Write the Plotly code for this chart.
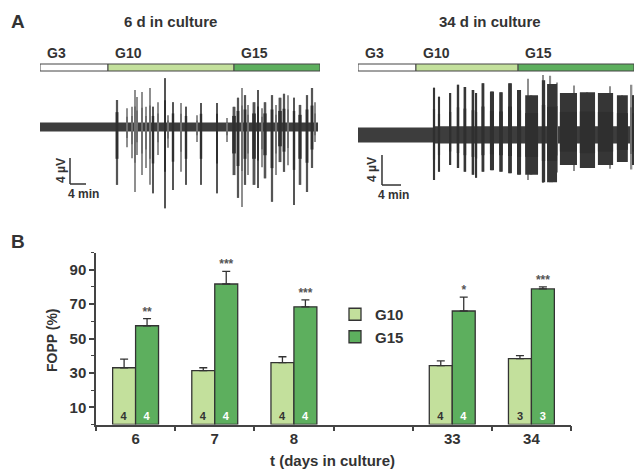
import plotly.graph_objects as go

W, H = 636, 470
def px(x): return x / W
def py(y): return 1 - y / H

FONT = "Liberation Sans, Arial, sans-serif"
INK = "#333333"
C_G10 = "#c3e09c"
C_G15 = "#5daf5e"

# ---------------- Panel B data ----------------
days = ["6", "7", "8", "33", "34"]
day_slots = [0, 1, 2, 4, 5]          # slot 3 is the empty gap on the axis
g10_mean = [33.0, 31.3, 36.0, 34.2, 38.3]
g10_sem = [5.0, 1.7, 3.4, 2.8, 1.7]
g15_mean = [57.4, 81.7, 68.4, 66.0, 78.8]
g15_sem = [4.1, 7.3, 4.1, 8.0, 1.2]
n_g10 = [4, 4, 4, 4, 3]
n_g15 = [4, 4, 4, 4, 3]
signif = ["**", "***", "***", "*", "***"]
y_ticks = [10, 30, 50, 70, 90]

# ---------------- Panel A data (min, µV) ----------------
# 6 d in culture
left_phase_edges = [0, 17, 48.5, 70]
left_band = [(0, 69.5, 0.7)]                      # (start, end, half-amplitude)
left_strong = [  # (t, up, down, duration)
    (19.25, 4.15, 8.9, 0.7), (28.25, 3.1, 10.2, 0.6), (31.25, 7.5, 12.5, 0.5),
    (33.25, 3.8, 9.7, 0.6), (36.5, 3.1, 8.9, 0.6), (40.25, 3.7, 8.9, 0.6),
    (44.25, 3.7, 10.2, 0.5), (48.5, 3.1, 7.4, 0.9), (49.5, 4.5, 10.9, 0.7),
    (51.25, 4.9, 8.9, 0.7), (53.5, 3.8, 8.9, 0.9), (54.5, 5.7, 9.4, 0.5),
    (56.25, 3.8, 7.9, 0.8), (58.0, 4.9, 11.5, 0.7), (60.0, 4.5, 5.4, 0.9),
    (61.0, 5.1, 6.9, 0.7), (63.5, 4.5, 12.0, 0.6), (65.0, 3.4, 8.9, 0.8),
    (66.75, 4.9, 10.0, 0.7), (68.0, 6.0, 6.3, 0.7),
]
left_weak = [  # (t, up, down, duration)
    (21.75, 2.9, 3.1, 0.3), (23.0, 3.1, 4.8, 0.3), (23.75, 5.7, 10.0, 0.3),
    (24.25, 4.6, 4.3, 0.3), (25.5, 5.4, 7.4, 0.3), (26.5, 3.1, 6.3, 0.3),
    (27.5, 6.0, 8.9, 0.3), (29.5, 3.8, 4.3, 0.3), (32.0, 1.8, 3.2, 0.3),
    (35.25, 3.7, 6.9, 0.3), (39.25, 1.8, 2.3, 0.3), (46.75, 1.4, 2.3, 0.3),
    (50.5, 6.0, 12.3, 0.3), (52.0, 3.4, 7.4, 0.3), (55.5, 2.9, 6.2, 0.3),
    (59.0, 3.4, 7.4, 0.3), (62.0, 4.9, 5.9, 0.3), (68.75, 3.8, 2.3, 0.3),
]
left_scale_origin = (7.5, -8.77)

# 34 d in culture
right_phase_edges = [0, 12.2, 33.7, 58.1]
right_band = [(0, 15.8, 1.0), (15.8, 58.1, 1.15)]
right_strong = [
    (16.0, 6.3, 6.0, 0.45), (17.05, 5.1, 4.9, 0.45), (19.4, 5.6, 4.0, 0.45),
    (21.05, 6.7, 4.4, 0.5), (22.5, 6.4, 4.9, 0.55), (24.2, 6.0, 5.3, 0.55),
    (24.85, 5.6, 5.7, 0.45), (26.3, 6.9, 4.9, 0.6), (28.2, 5.8, 4.7, 0.85),
    (30.1, 5.7, 4.9, 0.75), (32.0, 6.9, 5.1, 0.8), (33.9, 6.0, 5.3, 0.85),
    (36.55, 5.3, 5.3, 2.7), (39.05, 7.3, 6.3, 0.7), (40.85, 6.8, 6.3, 2.1),
    (44.3, 5.6, 4.0, 3.6), (48.3, 5.7, 4.4, 3.2), (52.1, 5.6, 4.0, 3.2),
    (55.65, 5.3, 3.6, 2.3), (58.0, 5.3, 4.0, 0.3),
]
right_weak = [
    (35.8, 7.5, 6.0, 0.3), (38.9, 8.0, 6.4, 0.3), (40.5, 7.9, 6.3, 0.3),
    (41.9, 7.0, 5.0, 0.3), (45.5, 6.6, 4.8, 0.3), (53.0, 6.5, 4.5, 0.3),
    (57.6, 6.7, 4.6, 0.3),
]
right_scale_origin = (5.05, -6.67)
scale_min, scale_uv = 4, 4
phase_names = ["G3", "G10", "G15"]
phase_fill = ["#ffffff", C_G10, C_G15]

fig = go.Figure()

# ---------------- Panel B ----------------
BW = 0.29
fig.add_trace(go.Bar(
    x=day_slots, y=g10_mean, name="G10", width=BW, offset=-BW,
    marker=dict(color=C_G10, line=dict(color=INK, width=1.3)),
    error_y=dict(type="data", symmetric=False, array=g10_sem,
                 arrayminus=[0] * 5, color=INK, thickness=1.3, width=4),
    text=[str(v) for v in n_g10], textposition="inside",
    insidetextanchor="start", textangle=0,
    textfont=dict(family=FONT, size=11, color=INK, weight="bold"),
    xaxis="x", yaxis="y"))
fig.add_trace(go.Bar(
    x=day_slots, y=g15_mean, name="G15", width=BW, offset=0,
    marker=dict(color=C_G15, line=dict(color=INK, width=1.3)),
    error_y=dict(type="data", symmetric=False, array=g15_sem,
                 arrayminus=[0] * 5, color=INK, thickness=1.3, width=4),
    text=[str(v) for v in n_g15], textposition="inside",
    insidetextanchor="start", textangle=0,
    textfont=dict(family=FONT, size=11, color="white", weight="bold"),
    xaxis="x", yaxis="y"))
fig.add_trace(go.Scatter(
    x=[s + BW / 2 for s in day_slots],
    y=[m + e for m, e in zip(g15_mean, g15_sem)],
    text=signif, mode="text", textposition="top center",
    textfont=dict(family=FONT, size=12, color="#555555", weight="bold"),
    showlegend=False, hoverinfo="skip", xaxis="x", yaxis="y"))

# ---------------- Panel A traces ----------------
CORE = 0.55   # drawing style: dark core of each burst, lighter thin tips
def bar_layer(xs, ws, ys, bases, color, xa, ya):
    fig.add_trace(go.Bar(
        x=xs, width=ws, y=ys, base=bases,
        marker=dict(color=color, line=dict(width=0)),
        showlegend=False, hoverinfo="skip", xaxis=xa, yaxis=ya))

def add_trace_panel(bands, strong, weak, xa, ya, body_color, body_frac):
    bar_layer([(a + b) / 2 for a, b, h in bands], [b - a for a, b, h in bands],
              [2 * h for a, b, h in bands], [-h for a, b, h in bands], "#3d3d3d", xa, ya)
    allb = weak + strong
    bar_layer([b[0] for b in allb], [min(b[3], 0.3) for b in allb],
              [b[1] + b[2] for b in allb], [-b[2] for b in allb], "#8f8f8f", xa, ya)
    bar_layer([b[0] for b in weak], [b[3] for b in weak],
              [CORE * (b[1] + b[2]) for b in weak], [-CORE * b[2] for b in weak],
              "#6e6e6e", xa, ya)
    bar_layer([b[0] for b in strong], [b[3] * body_frac for b in strong],
              [b[1] + b[2] for b in strong], [-b[2] for b in strong], body_color, xa, ya)
    bar_layer([b[0] for b in strong], [b[3] for b in strong],
              [CORE * (b[1] + b[2]) for b in strong], [-CORE * b[2] for b in strong],
              "#2f2f2f", xa, ya)

add_trace_panel(left_band, left_strong, left_weak, "x2", "y2", "#555555", 0.8)
add_trace_panel(right_band, right_strong, right_weak, "x3", "y3", "#363636", 1.0)

shapes = []
annotations = []
for edges, xr in ((left_phase_edges, "x2"), (right_phase_edges, "x3")):
    for i in range(3):
        shapes.append(dict(type="rect", xref=xr, yref="paper",
                           x0=edges[i], x1=edges[i + 1], y0=py(71), y1=py(64),
                           fillcolor=phase_fill[i], line=dict(color="#444444", width=1)))
        annotations.append(dict(xref=xr, yref="paper", x=edges[i], y=py(53),
                                xanchor="left", yanchor="middle", xshift=5,
                                text=phase_names[i], showarrow=False,
                                font=dict(family=FONT, size=14, color=INK, weight="bold")))

for (ox, oy), xr, yr in ((left_scale_origin, "x2", "y2"), (right_scale_origin, "x3", "y3")):
    shapes.append(dict(type="line", xref=xr, yref=yr, x0=ox, x1=ox, y0=oy, y1=oy + scale_uv,
                       line=dict(color=INK, width=1.5)))
    shapes.append(dict(type="line", xref=xr, yref=yr, x0=ox, x1=ox + scale_min, y0=oy, y1=oy,
                       line=dict(color=INK, width=1.5)))

def txt(x, y, s, size=14, angle=0, anchor="center", color=INK):
    annotations.append(dict(xref="paper", yref="paper", x=px(x), y=py(y), text=s,
                            showarrow=False, xanchor=anchor, yanchor="middle",
                            textangle=angle,
                            font=dict(family=FONT, size=size, color=color, weight="bold")))

txt(18, 21, "A", size=19)
txt(18, 242, "B", size=19)
txt(170, 21, "6 d in culture", size=15)
txt(490, 21, "34 d in culture", size=15)
txt(61, 171, "4 µV", size=12, angle=-90)
txt(83, 194, "4 min", size=12)
txt(372, 170, "4 µV", size=12, angle=-90)
txt(393, 195, "4 min", size=12)
txt(332, 460, "t (days in culture)", size=15)
txt(52, 340, "FOPP (%)", size=14, angle=-90)

fig.update_layout(
    width=W, height=H, margin=dict(l=0, r=0, t=0, b=0),
    paper_bgcolor="white", plot_bgcolor="rgba(0,0,0,0)",
    barmode="overlay", shapes=shapes, annotations=annotations,
    showlegend=True,
    legend=dict(x=px(335), y=py(298), xanchor="left", yanchor="top",
                bgcolor="rgba(0,0,0,0)", tracegroupgap=0, itemwidth=30,
                font=dict(family=FONT, size=15, color=INK, weight="bold")),
    xaxis=dict(domain=[px(96), px(571)], range=[-0.5, 5.5], anchor="y",
               showline=True, linecolor="#444444", linewidth=1.5,
               tickmode="array", tickvals=day_slots, ticktext=days, ticks="",
               minor=dict(tickmode="linear", tick0=0.5, dtick=1, ticks="outside",
                          ticklen=5, tickwidth=1.5, tickcolor="#444444"),
               showgrid=False, zeroline=False, fixedrange=True,
               tickfont=dict(family=FONT, size=15, color=INK, weight="bold")),
    yaxis=dict(domain=[py(424.5), py(252.5)], range=[0, 100], anchor="x",
               showline=True, linecolor="#444444", linewidth=1.5,
               tickmode="array", tickvals=y_ticks, ticks="outside", ticklen=5,
               tickwidth=1.5, tickcolor="#444444",
               minor=dict(tickmode="linear", tick0=0, dtick=10, ticks="outside",
                          ticklen=3, tickwidth=1.2, tickcolor="#444444"),
               showgrid=False, zeroline=False,
               tickfont=dict(family=FONT, size=15, color=INK, weight="bold")),
    xaxis2=dict(domain=[px(40), px(320)], range=[0, 70], anchor="y2", visible=False),
    yaxis2=dict(domain=[py(215), py(75)], range=[-13.54, 8], anchor="x2", visible=False),
    xaxis3=dict(domain=[px(358), px(634)], range=[0, 58.1], anchor="y3", visible=False),
    yaxis3=dict(domain=[py(215), py(75)], range=[-10.67, 8], anchor="x3", visible=False),
)

fig.write_html("out.html", config={"displayModeBar": False},
               post_script="document.body.style.margin='0';document.body.style.padding='0';")
